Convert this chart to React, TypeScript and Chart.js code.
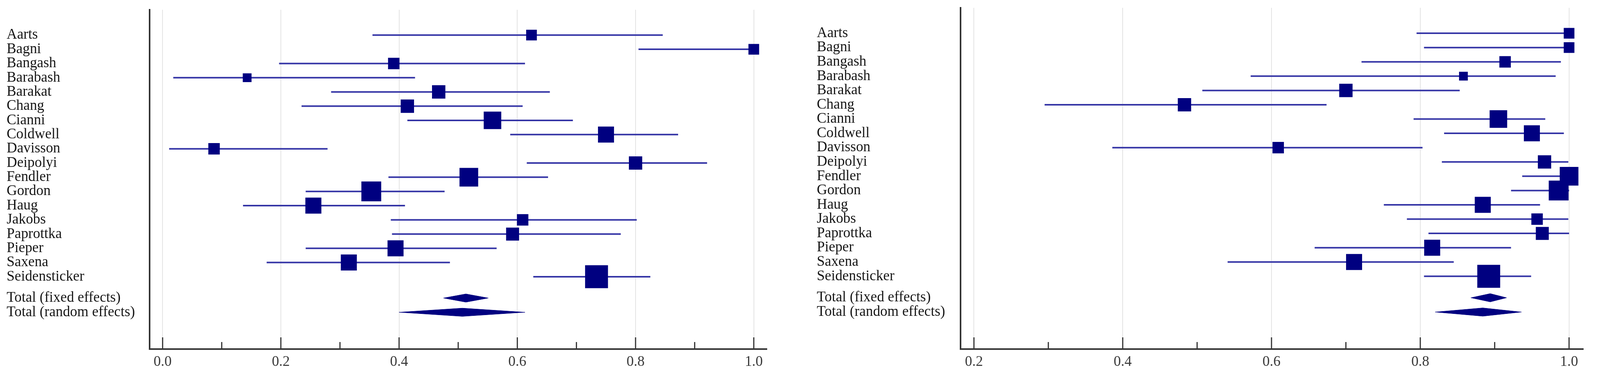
import React, { useEffect, useRef } from 'react';
import { Chart, registerables } from 'chart.js';

Chart.register(...registerables);

// ---------- data ----------
const studies = [
  'Aarts', 'Bagni', 'Bangash', 'Barabash', 'Barakat', 'Chang', 'Cianni', 'Coldwell', 'Davisson',
  'Deipolyi', 'Fendler', 'Gordon', 'Haug', 'Jakobs', 'Paprottka', 'Pieper', 'Saxena', 'Seidensticker',
];
const totalLabels = ['Total (fixed effects)', 'Total (random effects)'];

// relative study weights (%), shown as box size
const studyWeights = [2.85, 2.85, 3.27, 1.92, 4.45, 4.45, 7.69, 6.41, 3.27, 4.45, 8.73, 9.83, 6.41, 3.27, 4.2, 6.41, 6.41, 13.09];

// left panel
const leftEst = [0.624, 1.0, 0.391, 0.143, 0.467, 0.414, 0.558, 0.75, 0.087, 0.8, 0.518, 0.353, 0.255, 0.609, 0.592, 0.394, 0.315, 0.734];
const leftLo = [0.355, 0.805, 0.197, 0.018, 0.285, 0.235, 0.414, 0.588, 0.011, 0.616, 0.382, 0.242, 0.136, 0.386, 0.388, 0.242, 0.176, 0.627];
const leftHi = [0.846, 1.0, 0.613, 0.427, 0.655, 0.609, 0.694, 0.872, 0.279, 0.921, 0.652, 0.477, 0.41, 0.802, 0.775, 0.565, 0.486, 0.825];
const leftTotalEst = [0.513, 0.507];
const leftTotalLo = [0.475, 0.4];
const leftTotalHi = [0.551, 0.613];
const leftMajorTicks = [0.0, 0.2, 0.4, 0.6, 0.8, 1.0];
const leftMinorTicks = [0.1, 0.3, 0.5, 0.7, 0.9];

// right panel
const rightEst = [1.0, 1.0, 0.914, 0.858, 0.7, 0.483, 0.905, 0.95, 0.609, 0.967, 1.0, 0.986, 0.884, 0.957, 0.964, 0.816, 0.711, 0.892];
const rightLo = [0.795, 0.805, 0.721, 0.572, 0.507, 0.295, 0.791, 0.832, 0.386, 0.829, 0.937, 0.922, 0.751, 0.782, 0.811, 0.658, 0.541, 0.805];
const rightHi = [1.0, 1.0, 0.989, 0.982, 0.853, 0.674, 0.968, 0.993, 0.803, 0.999, 1.0, 1.0, 0.961, 0.999, 1.0, 0.922, 0.845, 0.949];
const rightTotalEst = [0.894, 0.884];
const rightTotalLo = [0.868, 0.82];
const rightTotalHi = [0.916, 0.936];
const rightMajorTicks = [0.2, 0.4, 0.6, 0.8, 1.0];
const rightMinorTicks = [0.3, 0.5, 0.7, 0.9];

// ---------- styles / layout (reference is 4345 x 967) ----------
const REF_W = 4345;
const REF_H = 967;
const FONT = '"Liberation Serif", "Times New Roman", serif';
const LINE_COLOR = '#3535a6';
const BOX_COLOR = '#000080';
const AXIS_COLOR = '#333333';
const GRID_COLOR = '#e3e3e3';
const DIAMOND_HALF = 0.29;
const BOX_SCALE = 16.2;
const AXIS_BOTTOM = 893;

type PanelSpec = {
  left: number; width: number; labelLeft: number; axisLeft: number; axisRight: number; top: number;
  xMin: number; xMax: number;
  est: number[]; lo: number[]; hi: number[];
  totEst: number[]; totLo: number[]; totHi: number[];
  major: number[]; minor: number[];
};

const panelDefs: PanelSpec[] = [
  {
    left: 0, width: 2200, labelLeft: 18, axisLeft: 406, axisRight: 2082, top: 25, xMin: -0.022, xMax: 1.022,
    est: leftEst, lo: leftLo, hi: leftHi, totEst: leftTotalEst, totLo: leftTotalLo, totHi: leftTotalHi,
    major: leftMajorTicks, minor: leftMinorTicks,
  },
  {
    left: 2200, width: 2145, labelLeft: 18, axisLeft: 408, axisRight: 2099, top: 20, xMin: 0.182, xMax: 1.019,
    est: rightEst, lo: rightLo, hi: rightHi, totEst: rightTotalEst, totLo: rightTotalLo, totHi: rightTotalHi,
    major: rightMajorTicks, minor: rightMinorTicks,
  },
];

function scalePanel(p: PanelSpec, sx: number): PanelSpec {
  return {
    ...p,
    left: Math.round(p.left * sx),
    width: Math.round((p.left + p.width) * sx) - Math.round(p.left * sx),
    labelLeft: Math.round(p.labelLeft * sx),
    axisLeft: Math.round(p.axisLeft * sx),
    axisRight: Math.round(p.axisRight * sx),
  };
}

function makeConfig(p: PanelSpec, H: number, sx: number): any {
  const n = studies.length;
  const totalPos = [n + 0.5, n + 1.5];
  const tickPos = [...studies.map((_, i) => i), ...totalPos];
  const tickText = [...studies, ...totalLabels];
  const fontSize = Math.round(38 * Math.sqrt(sx) * 10) / 10;
  const boxRadius = studyWeights.map((w) => (BOX_SCALE * Math.sqrt(w)) / Math.SQRT2);

  const datasets: any[] = [];
  datasets.push({
    type: 'scatter',
    order: 0,
    data: studies.map((_, i) => ({ x: p.est[i], y: i })),
    pointStyle: 'rect',
    pointRadius: boxRadius,
    pointHoverRadius: boxRadius,
    backgroundColor: BOX_COLOR,
    borderColor: BOX_COLOR,
    borderWidth: 0,
    showLine: false,
  });
  studies.forEach((_, i) => {
    datasets.push({
      type: 'line',
      order: 1,
      data: [{ x: p.lo[i], y: i }, { x: p.hi[i], y: i }],
      borderColor: LINE_COLOR,
      borderWidth: 4,
      pointRadius: 0,
      pointHoverRadius: 0,
      fill: false,
    });
  });
  totalPos.forEach((y, k) => {
    datasets.push({
      type: 'line',
      order: 0,
      data: [
        { x: p.totLo[k], y },
        { x: p.totEst[k], y: y - DIAMOND_HALF },
        { x: p.totHi[k], y },
        { x: p.totEst[k], y: y + DIAMOND_HALF },
        { x: p.totLo[k], y },
      ],
      borderColor: BOX_COLOR,
      backgroundColor: BOX_COLOR,
      borderWidth: 1,
      pointRadius: 0,
      pointHoverRadius: 0,
      tension: 0,
      fill: 'shape',
    });
  });

  const tickMarks = {
    id: 'tickMarks',
    afterDraw(chart: any) {
      const xs = chart.scales.x;
      const ctx = chart.ctx;
      const b = chart.chartArea.bottom;
      ctx.save();
      ctx.strokeStyle = AXIS_COLOR;
      ctx.lineWidth = 3;
      const draw = (vals: number[], len: number) => {
        vals.forEach((v) => {
          const x = xs.getPixelForValue(v);
          ctx.beginPath();
          ctx.moveTo(x, b);
          ctx.lineTo(x, b - len);
          ctx.stroke();
        });
      };
      draw(p.major, 30);
      draw(p.minor, 18);
      ctx.restore();
    },
  };

  return {
    type: 'scatter',
    data: { datasets },
    plugins: [tickMarks],
    options: {
      animation: false,
      responsive: false,
      devicePixelRatio: 1,
      events: [],
      layout: {
        autoPadding: false,
        padding: { left: p.labelLeft, top: p.top, right: p.width - p.axisRight, bottom: 0 },
      },
      plugins: { legend: { display: false }, title: { display: false }, tooltip: { enabled: false } },
      scales: {
        x: {
          type: 'linear',
          min: p.xMin,
          max: p.xMax,
          afterBuildTicks: (s: any) => {
            s.ticks = p.major.map((v) => ({ value: v }));
          },
          afterFit: (s: any) => {
            s.height = H - AXIS_BOTTOM;
            s.paddingLeft = 0;
            s.paddingRight = 0;
            s.paddingTop = 0;
            s.paddingBottom = 0;
          },
          ticks: {
            autoSkip: false,
            maxRotation: 0,
            minRotation: 0,
            padding: 11,
            color: '#3a3a3a',
            font: { family: FONT, size: fontSize, lineHeight: 1.2 },
            callback: (v: any) => Number(v).toFixed(1),
          },
          grid: { color: GRID_COLOR, lineWidth: 2, drawTicks: false },
          border: { display: true, color: AXIS_COLOR, width: 4 },
        },
        y: {
          type: 'linear',
          reverse: true,
          min: -1.78,
          max: 22.09,
          afterBuildTicks: (s: any) => {
            s.ticks = tickPos.map((v) => ({ value: v }));
          },
          afterFit: (s: any) => {
            s.width = p.axisLeft - p.labelLeft;
            s.paddingTop = 0;
            s.paddingBottom = 0;
            s.paddingLeft = 0;
            s.paddingRight = 0;
          },
          ticks: {
            autoSkip: false,
            crossAlign: 'far',
            padding: 0,
            color: '#161616',
            font: { family: FONT, size: fontSize, lineHeight: 1 },
            callback: (_v: any, i: number) => tickText[i],
          },
          grid: { display: true, color: 'rgba(0,0,0,0)', drawTicks: false },
          border: { display: true, color: AXIS_COLOR, width: 4 },
        },
      },
    },
  };
}

function Panel({ p, H, sx }: { p: PanelSpec; H: number; sx: number }) {
  const ref = useRef<HTMLCanvasElement | null>(null);
  useEffect(() => {
    if (!ref.current) return;
    const chart = new Chart(ref.current, makeConfig(p, H, sx));
    return () => chart.destroy();
  }, [p, H, sx]);
  return (
    <div style={{ position: 'absolute', left: p.left, top: 0, width: p.width, height: H, background: '#fff' }}>
      <canvas ref={ref} width={p.width} height={H} style={{ display: 'block', width: p.width, height: H }} />
    </div>
  );
}

export default function App() {
  const W = Math.min(window.innerWidth || REF_W, REF_W);
  const H = REF_H;
  const sx = W / REF_W;
  const panels = panelDefs.map((p) => scalePanel(p, sx));
  return (
    <div style={{ position: 'absolute', left: 0, top: 0, width: W, height: H, background: '#fff', overflow: 'hidden' }}>
      {panels.map((p, i) => (
        <Panel key={i} p={p} H={H} sx={sx} />
      ))}
    </div>
  );
}
